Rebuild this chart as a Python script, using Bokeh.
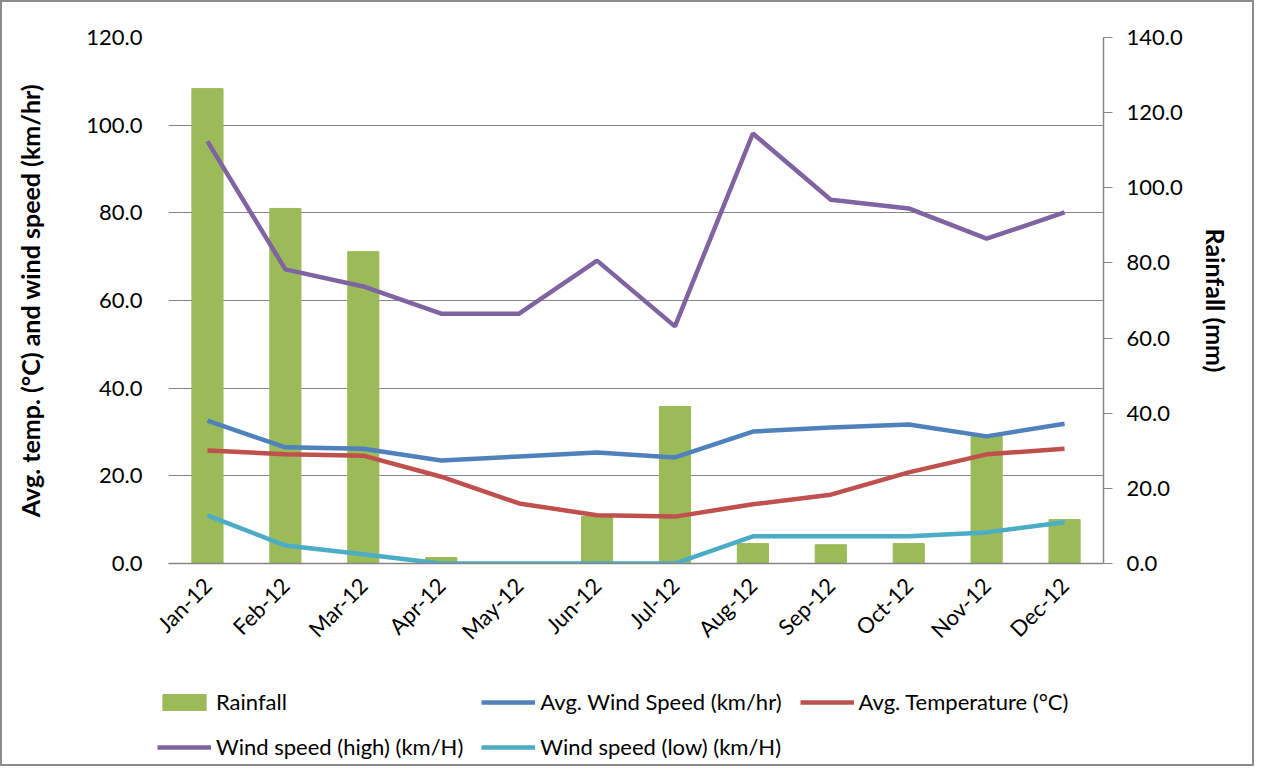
from bokeh.plotting import figure
from bokeh.layouts import column
from bokeh.models import (FactorRange, Range1d, LinearAxis, FixedTicker, NumeralTickFormatter,
                          Legend, LegendItem)
from bokeh.embed import file_html
from bokeh.resources import INLINE
import math

months = ["Jan-12", "Feb-12", "Mar-12", "Apr-12", "May-12", "Jun-12",
          "Jul-12", "Aug-12", "Sep-12", "Oct-12", "Nov-12", "Dec-12"]
rainfall = [126.4, 94.5, 83.0, 1.6, 0.0, 12.5, 41.8, 5.3, 5.0, 5.3, 33.8, 11.7]
avg_wind = [32.6, 26.5, 26.2, 23.5, 24.4, 25.3, 24.2, 30.1, 31.0, 31.7, 29.0, 31.9]
avg_temp = [25.8, 24.9, 24.6, 19.8, 13.7, 11.0, 10.7, 13.5, 15.7, 20.8, 24.9, 26.2]
wind_high = [96.3, 67.1, 63.2, 57.0, 57.0, 69.1, 54.1, 98.1, 83.0, 81.0, 74.1, 80.1]
wind_low = [11.0, 4.1, 2.1, 0.0, 0.0, 0.0, 0.0, 6.2, 6.2, 6.2, 7.1, 9.4]
left_ticks = [0, 20, 40, 60, 80, 100, 120]
right_ticks = [0, 20, 40, 60, 80, 100, 120, 140]

series_names = ["Rainfall", "Avg. Wind Speed (km/hr)", "Avg. Temperature (°C)",
                "Wind speed (high) (km/H)", "Wind speed (low) (km/H)"]

FONT = "Lato"
GRID = "#868686"
C_RAIN, C_WIND, C_TEMP, C_HIGH, C_LOW = "#9BBB59", "#4F81BD", "#C0504D", "#8064A2", "#4BACC6"
LW = 4.5


def draw_series(fig, visible=True):
    rs = [fig.vbar(x=months, top=rainfall, width=0.4, y_range_name="rain",
                   fill_color=C_RAIN, line_color=C_RAIN, visible=visible),
          fig.line(months, avg_wind, line_color=C_WIND, line_width=LW, visible=visible),
          fig.line(months, avg_temp, line_color=C_TEMP, line_width=LW, visible=visible),
          fig.line(months, wind_high, line_color=C_HIGH, line_width=LW, visible=visible),
          fig.line(months, wind_low, line_color=C_LOW, line_width=LW, visible=visible)]
    return rs


W = 1250
p = figure(width=W, height=655, x_range=FactorRange(*months, range_padding=0.0),
           y_range=Range1d(0, 120), output_backend="svg", toolbar_location=None,
           min_border_left=166, min_border_right=149, min_border_top=35, min_border_bottom=94)
p.x_range.factor_padding = 0
p.extra_y_ranges = {"rain": Range1d(0, 140)}
p.outline_line_color = None
p.background_fill_color = "white"
p.border_fill_color = "white"
p.frame_align = False
draw_series(p)

# grid
p.xgrid.grid_line_color = None
p.ygrid.grid_line_color = GRID
p.ygrid.grid_line_width = 1
p.ygrid.ticker = FixedTicker(ticks=left_ticks)

# left axis
ya = p.yaxis[0]
ya.ticker = FixedTicker(ticks=left_ticks)
ya.formatter = NumeralTickFormatter(format="0.0")
ya.axis_line_color = None
ya.major_tick_line_color = None
ya.minor_tick_line_color = None
ya.major_label_text_font = FONT
ya.major_label_text_font_size = "22px"
ya.major_label_text_color = "black"
ya.major_label_standoff = 20
ya.axis_label = "Avg. temp. (°C) and wind speed (km/hr)"
ya.axis_label_text_font = FONT
ya.axis_label_text_font_size = "25px"
ya.axis_label_text_font_style = "bold"
ya.axis_label_text_color = "black"
ya.axis_label_standoff = 38

# right axis
ra = LinearAxis(y_range_name="rain", ticker=FixedTicker(ticks=right_ticks),
                formatter=NumeralTickFormatter(format="0.0"))
ra.axis_line_color = GRID
ra.axis_line_width = 1.5
ra.major_tick_line_color = GRID
ra.major_tick_in = 0
ra.major_tick_out = 9
ra.minor_tick_line_color = None
ra.major_label_text_font = FONT
ra.major_label_text_font_size = "22px"
ra.major_label_text_color = "black"
ra.major_label_standoff = 14
ra.axis_label = "Rainfall (mm)"
ra.axis_label_text_font = FONT
ra.axis_label_text_font_size = "25px"
ra.axis_label_text_font_style = "bold"
ra.axis_label_text_color = "black"
ra.axis_label_standoff = 15
p.add_layout(ra, "right")

# x axis
xa = p.xaxis[0]
xa.axis_line_color = GRID
xa.axis_line_width = 1.5
xa.major_tick_line_color = None
xa.minor_tick_line_color = None
xa.major_label_orientation = math.pi / 4
xa.major_label_text_font = FONT
xa.major_label_text_font_size = "22px"
xa.major_label_text_color = "black"
xa.major_label_standoff = 12

# legend strip: same series (hidden) so the legend keys carry their styles
q = figure(width=W, height=107, x_range=FactorRange(*months), y_range=Range1d(0, 120),
           output_backend="svg", toolbar_location=None,
           x_axis_location=None, y_axis_location=None,
           min_border_left=0, min_border_right=0, min_border_top=0, min_border_bottom=0)
q.extra_y_ranges = {"rain": Range1d(0, 140)}
q.grid.visible = False
q.outline_line_color = None
q.background_fill_color = "white"
q.border_fill_color = "white"
q.frame_align = False
keys = draw_series(q, visible=False)

legend = Legend(items=[LegendItem(label=n, renderers=[r]) for n, r in zip(series_names, keys)],
                location=(155, 4), orientation="horizontal", ncols=3,
                border_line_alpha=0, background_fill_alpha=0,
                inactive_fill_alpha=0,
                padding=0, margin=0, spacing=18, glyph_width=54, glyph_height=20,
                label_standoff=5, label_text_font=FONT, label_text_font_size="22px",
                label_text_color="black", label_height=24)
q.add_layout(legend, "center")

layout = column(p, q, spacing=0)
layout.styles = {"border": "2px solid #8c8c8c", "box-sizing": "border-box"}

open("out.html", "w").write(file_html(layout, INLINE))
